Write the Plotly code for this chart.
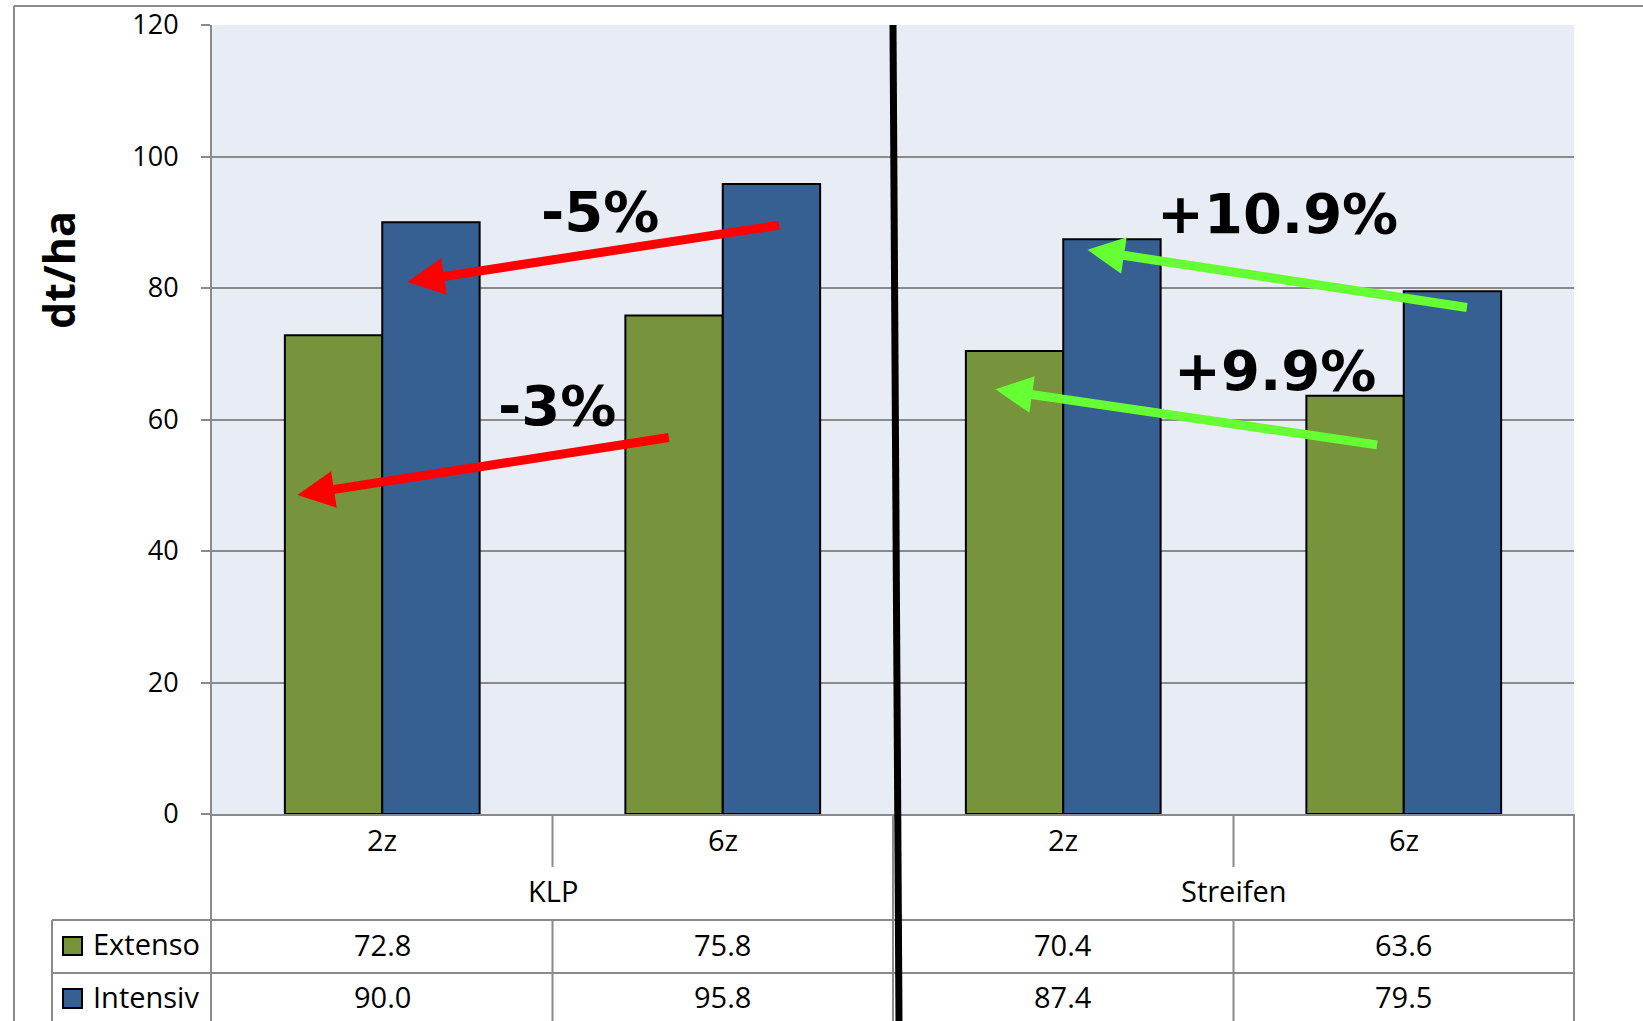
import plotly.graph_objects as go

# ---------------- data ----------------
groups = ["KLP", "Streifen"]
rows = ["2z", "6z", "2z", "6z"]
series_names = ["Extenso", "Intensiv"]
extenso = [72.8, 75.8, 70.4, 63.6]
intensiv = [90.0, 95.8, 87.4, 79.5]
y_ticks = [0, 20, 40, 60, 80, 100, 120]
change_labels = ["-5%", "-3%", "+10.9%", "+9.9%"]
y_title = "dt/ha"

# ---------------- styles ----------------
GREEN = "#77933C"
BLUE = "#366092"
GRAY = "#8A8A8A"
PLOT_BG = "#E8ECF4"
RED_ARROW = "#FF0000"
GREEN_ARROW = "#66FF33"
TXT_FONT = "Open Sans, Lato, sans-serif"
ANN_FONT = "DejaVu Sans, Verdana, sans-serif"

W, H = 1643, 1021
L, R, T, B = 212, 69, 25, 207
PW = W - L - R
PH = H - T - B


def px(x):
    return (x - L) / PW


def py(y):
    return (H - B - y) / PH


xi = list(range(len(rows)))

fig = go.Figure()
for name, vals, col in [(series_names[0], extenso, GREEN), (series_names[1], intensiv, BLUE)]:
    fig.add_trace(go.Bar(
        x=xi, y=vals, name=name,
        marker=dict(color=col, line=dict(color="black", width=2)),
        hoverinfo="x+y+name",
    ))

shapes = []


def hline(y, x0, x1, color=GRAY, width=2):
    shapes.append(dict(type="line", xref="paper", yref="paper",
                       x0=px(x0), x1=px(x1), y0=py(y), y1=py(y),
                       line=dict(color=color, width=width)))


def vline(x, y0, y1, color=GRAY, width=2):
    shapes.append(dict(type="line", xref="paper", yref="paper",
                       x0=px(x), x1=px(x), y0=py(y0), y1=py(y1),
                       line=dict(color=color, width=width)))


def xdata_px(v):
    return L + (v + 0.5) * PW / len(rows)


# outer frame
hline(6, 14, W + 5)
vline(14, 6, H + 5)

# data table grid
vline(L - 1, 814, H + 5)
vline(L + PW, 814, H + 5)
for v in [0.5, 2.5]:
    vline(xdata_px(v), 814, 867)
    vline(xdata_px(v), 920, H + 5)
vline(xdata_px(1.5), 814, H + 5)
vline(52, 920, H + 5)
hline(920, 52, L + PW)
hline(973, 52, L + PW)

# legend keys in the table
for (y0, y1), col in [((937, 955), GREEN), ((989, 1008), BLUE)]:
    shapes.append(dict(type="rect", xref="paper", yref="paper",
                       x0=px(63), x1=px(82), y0=py(y1), y1=py(y0),
                       fillcolor=col, line=dict(color="black", width=2)))

# thick black separator line
shapes.append(dict(type="line", xref="paper", yref="paper",
                   x0=px(893), x1=px(899), y0=py(25), y1=py(H + 2),
                   line=dict(color="black", width=7)))

annotations = []

# table text
for i, lab in enumerate(rows):
    annotations.append(dict(x=i, xref="x", y=py(839), yref="paper", text=lab,
                            showarrow=False, font=dict(family=TXT_FONT, size=29, color="black"),
                            xanchor="center", yanchor="middle"))
for g, name in enumerate(groups):
    annotations.append(dict(x=2 * g + 0.5, xref="x", y=py(891), yref="paper", text=name,
                            showarrow=False, font=dict(family=TXT_FONT, size=29, color="black"),
                            xanchor="center", yanchor="middle"))
for vals, yrow in [(extenso, 944), (intensiv, 996)]:
    for i, v in enumerate(vals):
        annotations.append(dict(x=i, xref="x", y=py(yrow), yref="paper", text=f"{v:.1f}",
                                showarrow=False, font=dict(family=TXT_FONT, size=29, color="black"),
                                xanchor="center", yanchor="middle"))
for name, yrow in zip(series_names, [943, 996]):
    annotations.append(dict(x=px(91), xref="paper", y=py(yrow), yref="paper", text=name,
                            showarrow=False, font=dict(family=TXT_FONT, size=29, color="black"),
                            xanchor="left", yanchor="middle"))

# y axis title
annotations.append(dict(x=px(58), xref="paper", y=py(270), yref="paper", text=f"<b>{y_title}</b>",
                        textangle=-90, showarrow=False,
                        font=dict(family=TXT_FONT, size=43, color="black"),
                        xanchor="center", yanchor="middle"))

# change labels (positions in axis units)
label_pos = [(0.640, 91.6), (0.514, 62.2), (2.629, 91.4), (2.623, 67.4)]
for lab, (x, y) in zip(change_labels, label_pos):
    annotations.append(dict(x=x, y=y, xref="x", yref="y", text=f"<b>{lab}</b>",
                            showarrow=False, font=dict(family=ANN_FONT, size=56, color="black"),
                            xanchor="center", yanchor="middle"))

# arrows: (head_x, head_y, tail_x, tail_y, color)
arrows = [
    (0.074, 80.9, 1.170, 89.6, RED_ARROW),
    (-0.249, 48.5, 0.846, 57.3, RED_ARROW),
    (2.071, 85.8, 3.190, 77.0, GREEN_ARROW),
    (1.801, 64.6, 2.926, 56.1, GREEN_ARROW),
]
for hx, hy, tx, ty, col in arrows:
    annotations.append(dict(x=hx, y=hy, xref="x", yref="y", ax=tx, ay=ty,
                            axref="x", ayref="y", text="", showarrow=True,
                            arrowhead=2, arrowsize=0.82, arrowwidth=9,
                            arrowcolor=col, standoff=0))

fig.update_layout(
    width=W, height=H,
    autosize=False,
    margin=dict(l=L, r=R, t=T, b=B, pad=0, autoexpand=False),
    paper_bgcolor="white",
    plot_bgcolor=PLOT_BG,
    barmode="group",
    bargap=0.428,
    bargroupgap=0,
    showlegend=False,
    shapes=shapes,
    annotations=annotations,
    xaxis=dict(range=[-0.5, 3.5], showticklabels=False, showgrid=False, zeroline=False,
               showline=True, linecolor=GRAY, linewidth=2, ticks="", fixedrange=True,
               automargin=False),
    yaxis=dict(range=[0, 120], tickvals=y_ticks, showgrid=True, gridcolor=GRAY, gridwidth=2,
               zeroline=False, showline=True, linecolor=GRAY, linewidth=2,
               ticks="outside", ticklen=9, tickwidth=2, tickcolor=GRAY,
               tickfont=dict(family=TXT_FONT, size=27, color="black"),
               ticklabelstandoff=17, fixedrange=True, automargin=False),
)

fig.write_html("out.html", config={"displayModeBar": False},
               post_script="document.body.style.margin='0';document.body.style.overflow='hidden';")
